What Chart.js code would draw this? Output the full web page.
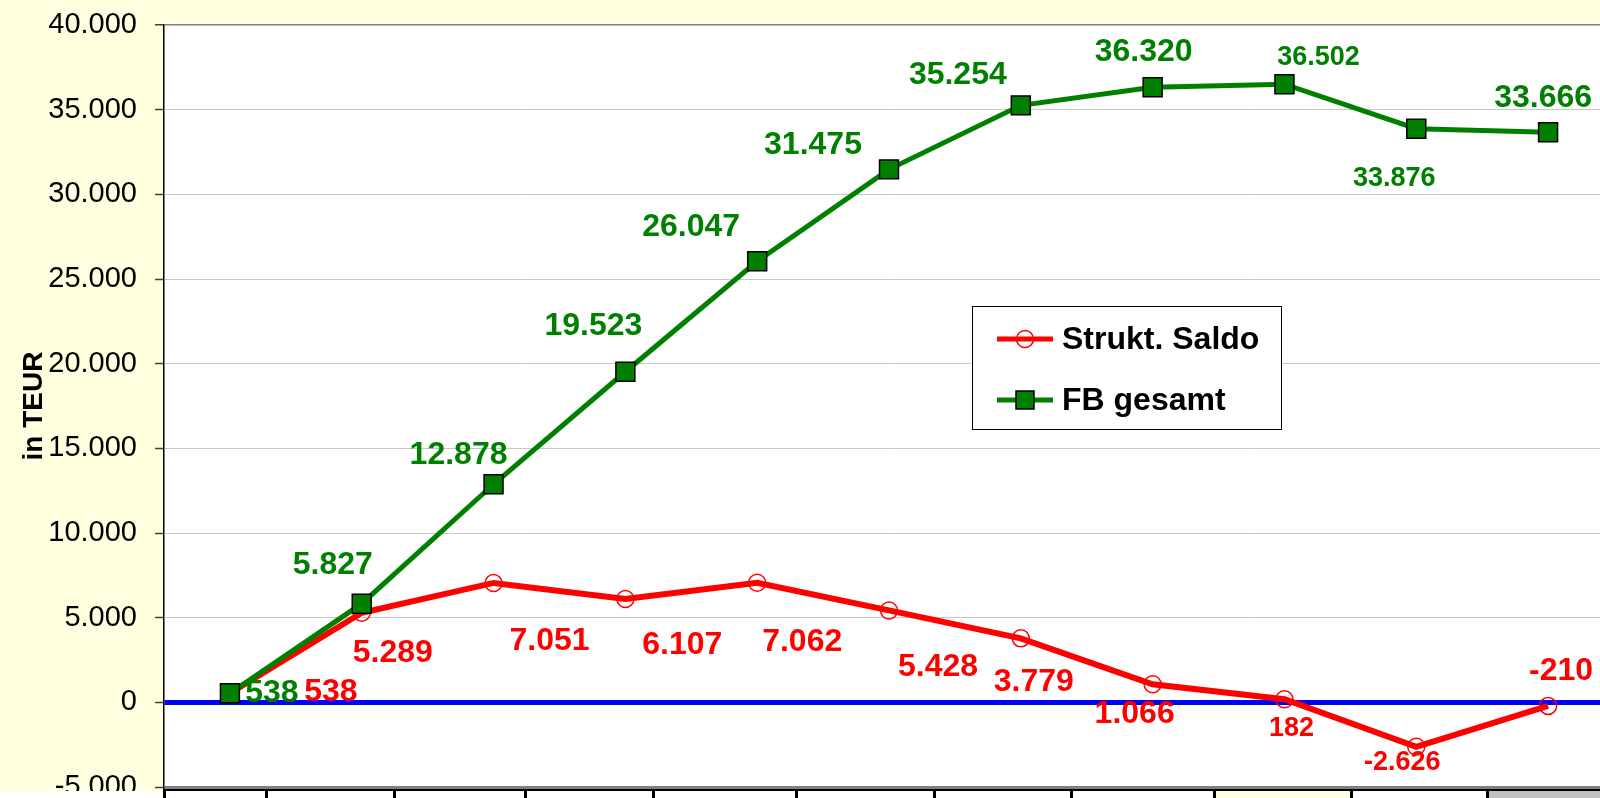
<!DOCTYPE html>
<html>
<head>
<meta charset="utf-8">
<script src="https://cdn.jsdelivr.net/npm/chart.js@4/dist/chart.umd.min.js"></script>
<style>
    html, body { margin: 0; padding: 0; overflow: hidden; background: #FFFFE0; }
    #wrap { position: relative; width: 1616px; height: 798px; }
    #saldoChart { display: block; }
    #strip { position: absolute; left: 163px; top: 789px; width: 1453px; height: 9px; background: #fff; border-top: 2px solid #000; box-sizing: border-box; }
    #strip div { position: absolute; top: 0; bottom: 0; border-left: 3px solid #000; box-sizing: border-box; }
    #leftfoot { position: absolute; left: 0; top: 791px; width: 163px; height: 7px; background: #fff; }
</style>
</head>
<body>
<div id="wrap">
    <canvas id="saldoChart" width="1616" height="798"></canvas>
    <div id="leftfoot"></div>
    <div id="strip"></div>
</div>
<script>
// Kategorien (Beschriftung der x-Achse ist im Bild abgeschnitten)
const categories = ['1', '2', '3', '4', '5', '6', '7', '8', '9', '10', '11'];

// Werte in TEUR
const struktSaldo = [538, 5289, 7051, 6107, 7062, 5428, 3779, 1066, 182, -2626, -210];
const fbGesamt = [538, 5827, 12878, 19523, 26047, 31475, 35254, 36320, 36502, 33876, 33666];

// y-Achse
const yMin = -5000;
const yMax = 40000;
const yStep = 5000;

// Lage der Datenbeschriftungen (Versatz zum Punkt in px) und kleine Beschriftungen
const saldoLabelOffsets = [[101, -1], [31, 40], [56, 58], [57, 46], [45, 59], [49, 57], [13, 44], [-18, 30], [7, 29], [-14, 16], [13, -35]];
const fbLabelOffsets = [[42, 0], [-29, -38], [-35, -29], [-32, -46], [-66, -34], [-76, -24], [-63, -30], [-9, -35], [34, -27], [-22, 50], [-5, -34]];
const saldoSmall = [8, 9];
const fbSmall = [8, 9];

const FONT = "'Liberation Sans', Arial, sans-serif";

function fmt(v) {
    const s = Math.abs(Math.round(v)).toString().replace(/\B(?=(\d{3})+(?!\d))/g, '.');
    return (v < 0 ? '-' : '') + s;
}

// Fußleiste (Tabellenzellen unter dem Diagramm)
const stripEdges = [163, 265, 393, 524, 652, 795, 933, 1070, 1213, 1350, 1486, 1616];
const strip = document.getElementById('strip');
for (let i = 0; i < stripEdges.length - 1; i++) {
    const cell = document.createElement('div');
    cell.style.left = (stripEdges[i] - 163) + 'px';
    cell.style.width = (stripEdges[i + 1] - stripEdges[i]) + 'px';
    if (i === 8) cell.style.background = '#FFFFE0';
    if (i === 10) cell.style.background = '#C0C0C0';
    strip.appendChild(cell);
}

const plotBg = {
    id: 'plotBg',
    beforeDraw(chart) {
        const { ctx, chartArea: a } = chart;
        ctx.save();
        ctx.fillStyle = '#fff';
        ctx.fillRect(a.left, a.top, a.right - a.left, a.bottom - a.top);
        ctx.restore();
    }
};

const valueLabels = {
    id: 'valueLabels',
    afterDatasetsDraw(chart) {
        const ctx = chart.ctx;
        const cfg = [
            { ds: 0, offs: saldoLabelOffsets, small: saldoSmall, color: '#FF0000' },
            { ds: 1, offs: fbLabelOffsets, small: fbSmall, color: '#008000' }
        ];
        ctx.save();
        ctx.textAlign = 'center';
        ctx.textBaseline = 'middle';
        cfg.forEach(c => {
            const meta = chart.getDatasetMeta(c.ds);
            const data = chart.data.datasets[c.ds].data;
            meta.data.forEach((pt, i) => {
                const size = c.small.includes(i) ? 27 : 32;
                ctx.font = 'bold ' + size + 'px ' + FONT;
                ctx.fillStyle = c.color;
                ctx.fillText(fmt(data[i]), pt.x + c.offs[i][0], pt.y + c.offs[i][1]);
            });
        });
        ctx.restore();
    }
};

const boxLegend = {
    id: 'boxLegend',
    afterDraw(chart) {
        const ctx = chart.ctx;
        ctx.save();
        ctx.fillStyle = '#fff';
        ctx.fillRect(972.5, 306.5, 309, 123);
        ctx.strokeStyle = '#000';
        ctx.lineWidth = 1;
        ctx.strokeRect(972.5, 306.5, 309, 123);
        const rows = [339, 400];
        chart.data.datasets.forEach((ds, i) => {
            const y = rows[i];
            ctx.strokeStyle = ds.borderColor;
            ctx.lineWidth = 5;
            ctx.beginPath();
            ctx.moveTo(997, y);
            ctx.lineTo(1053, y);
            ctx.stroke();
            if (ds.pointStyle === 'circle') {
                ctx.fillStyle = '#fff';
                ctx.beginPath();
                ctx.arc(1025, y, 8.5, 0, Math.PI * 2);
                ctx.fill();
                ctx.lineWidth = 1.5;
                ctx.strokeStyle = ds.pointBorderColor;
                ctx.stroke();
                ctx.lineWidth = 5;
                ctx.strokeStyle = ds.borderColor;
                ctx.beginPath();
                ctx.moveTo(1017, y);
                ctx.lineTo(1033, y);
                ctx.stroke();
            } else {
                ctx.fillStyle = ds.pointBackgroundColor;
                ctx.fillRect(1016, y - 9, 18, 18);
                ctx.lineWidth = 1.5;
                ctx.strokeStyle = ds.pointBorderColor;
                ctx.strokeRect(1016, y - 9, 18, 18);
            }
            ctx.fillStyle = '#000';
            ctx.font = 'bold 32px ' + FONT;
            ctx.textAlign = 'left';
            ctx.textBaseline = 'middle';
            ctx.fillText(ds.label, 1062, y + 1);
        });
        ctx.restore();
    }
};

new Chart(document.getElementById('saldoChart'), {
    type: 'line',
    data: {
        labels: categories,
        datasets: [
            {
                label: 'Strukt. Saldo',
                data: struktSaldo,
                borderColor: '#FF0000',
                borderWidth: 6,
                pointStyle: 'circle',
                pointRadius: 8.5,
                pointBorderWidth: 1.5,
                pointBorderColor: '#FF0000',
                pointBackgroundColor: 'rgba(0,0,0,0)',
                tension: 0,
                order: 1
            },
            {
                label: 'FB gesamt',
                data: fbGesamt,
                borderColor: '#008000',
                borderWidth: 5,
                pointStyle: 'rect',
                pointRadius: 13.4,
                pointBorderWidth: 1.5,
                pointBorderColor: '#000',
                pointBackgroundColor: '#008000',
                tension: 0,
                order: 0
            }
        ]
    },
    options: {
        responsive: false,
        animation: false,
        layout: { autoPadding: false, padding: { top: 25, right: 2, bottom: 11, left: 0 } },
        plugins: {
            legend: { display: false },
            tooltip: { enabled: false }
        },
        scales: {
            x: {
                display: false,
                offset: true
            },
            y: {
                min: yMin,
                max: yMax,
                afterFit: s => { s.width = 164; s.paddingTop = 0; s.paddingBottom = 0; },
                border: { color: '#000', width: 1.5 },
                grid: {
                    color: c => c.tick.value === 0 ? '#0000FF' : (c.tick.value === yMin || c.tick.value === yMax ? '#808080' : '#C8C8C8'),
                    lineWidth: c => c.tick.value === 0 ? 5 : (c.tick.value === yMin ? 3 : (c.tick.value === yMax ? 1.5 : 1)),
                    tickColor: '#404040',
                    tickWidth: 1.5,
                    tickLength: 9
                },
                ticks: {
                    stepSize: yStep,
                    padding: 18,
                    color: '#000',
                    font: { family: FONT, size: 29 },
                    callback: v => fmt(v)
                },
                title: {
                    display: true,
                    text: 'in TEUR',
                    color: '#000',
                    font: { family: FONT, size: 28, weight: 'bold' },
                    padding: { top: 17, bottom: 0 }
                }
            }
        }
    },
    plugins: [plotBg, valueLabels, boxLegend]
});
</script>
</body>
</html>
